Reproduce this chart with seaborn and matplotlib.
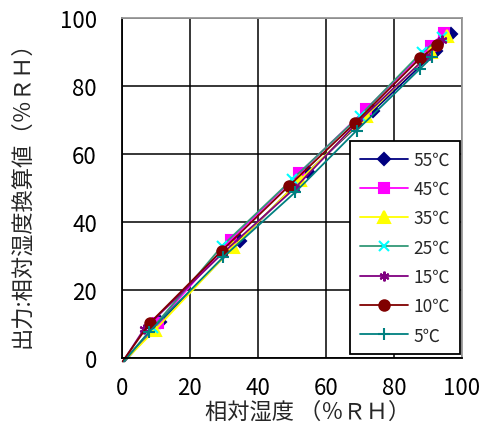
import matplotlib
matplotlib.use("Agg")
import matplotlib.pyplot as plt
from matplotlib.lines import Line2D
import seaborn as sns
import pandas as pd

sns.set_theme(style="white")
plt.rcParams['font.family'] = ['Noto Sans CJK JP', 'DejaVu Sans']

labels = ["55℃", "45℃", "35℃", "25℃", "15℃", "10℃", "5℃"]
x55 = [0.8, 11.2, 34.7, 54.8, 73.9, 92.5, 96.9]
y55 = [-1.0, 10.6, 34.5, 54.8, 72.7, 90.4, 95.3]
x45 = [0.5, 10.5, 32.0, 52.2, 71.8, 90.8, 94.7]
y45 = [-1.0, 10.3, 34.8, 54.4, 73.2, 91.9, 95.6]
x35 = [0.6, 9.7, 32.7, 52.4, 71.8, 90.8, 95.5]
y35 = [-1.0, 8.2, 32.6, 52.4, 71.2, 89.9, 94.8]
x25 = [0.4, 9.0, 29.5, 50.1, 70.0, 88.1, 94.0]
y25 = [-1.0, 8.8, 33.0, 52.6, 71.3, 89.9, 94.3]
x15 = [0.3, 6.5, 29.8, 50.9, 69.5, 89.5, 94.0]
y15 = [-1.0, 8.5, 31.0, 50.0, 69.5, 88.5, 93.5]
x10 = [0.2, 8.2, 29.3, 49.2, 68.5, 87.6, 92.7]
y10 = [-1.0, 10.3, 31.5, 50.7, 69.1, 88.1, 92.1]
x5 = [0.6, 7.9, 29.8, 51.0, 69.0, 87.6, 91.1]
y5 = [-1.0, 7.6, 29.7, 48.8, 66.9, 85.0, 88.4]
ticks = [0, 20, 40, 60, 80, 100]

xs = [x55, x45, x35, x25, x15, x10, x5]
ys = [y55, y45, y35, y25, y15, y10, y5]
line_colors = ["#000080", "#FF00FF", "#FFFF00", "#339977", "#800080", "#800000", "#008080"]
marker_colors = ["#000080", "#FF00FF", "#FFFF00", "#00FFFF", "#800080", "#800000", "#008080"]
markers = ["D", "s", "^", "x", (6, 2, 0), "o", "+"]
msizes = [6, 7, 8, 7, 7, 7.5, 8]

fig, ax = plt.subplots(figsize=(4.82, 4.39), dpi=100)
fig.subplots_adjust(left=0.253, right=0.9585, bottom=0.1822, top=0.9567)

handles = []
for lab, x, y, lc, mc, m, ms in zip(labels, xs, ys, line_colors, marker_colors, markers, msizes):
    df = pd.DataFrame({"x": x, "y": y})
    sns.lineplot(data=df, x="x", y="y", ax=ax, sort=False, color=lc, lw=1.3,
                 marker=m, markersize=ms, markerfacecolor=mc, markeredgecolor=mc,
                 markeredgewidth=1.5, markevery=list(range(1, len(x))),
                 clip_on=False, legend=False)
    handles.append(Line2D([], [], color=lc, lw=1.3, marker=m, markersize=ms,
                          markerfacecolor=mc, markeredgecolor=mc, markeredgewidth=1.5))

ax.set_xlim(0, 100)
ax.set_ylim(0, 100)
ax.set_xticks(ticks)
ax.set_yticks(ticks)
ax.grid(True, color="black", lw=1.1)
ax.set_axisbelow(True)
for s in ["left", "bottom"]:
    ax.spines[s].set_color("black")
    ax.spines[s].set_linewidth(1.3)
for s in ["top", "right"]:
    ax.spines[s].set_color("#999999")
    ax.spines[s].set_linewidth(1.3)
ax.tick_params(axis="both", length=0, labelsize=16, colors="black")
ax.tick_params(axis="x", pad=13)
ax.tick_params(axis="y", pad=18)
ax.set_xlabel("相対湿度 （％ＲＨ）", fontsize=16)
ax.set_ylabel("出力:相対湿度換算値（％ＲＨ）", fontsize=16)
ax.xaxis.set_label_coords(0.545, -0.122)
ax.yaxis.set_label_coords(-0.26, 0.5)

leg = ax.legend(handles, labels, loc="lower right", bbox_to_anchor=(0.994, 0.012),
                borderaxespad=0, fontsize=12.5, frameon=True, fancybox=False,
                edgecolor="black", framealpha=1, handlelength=2.76, labelspacing=0.65,
                borderpad=0.55, handletextpad=0.35)
leg.get_frame().set_linewidth(1.3)

fig.savefig("out.png", dpi=100)
